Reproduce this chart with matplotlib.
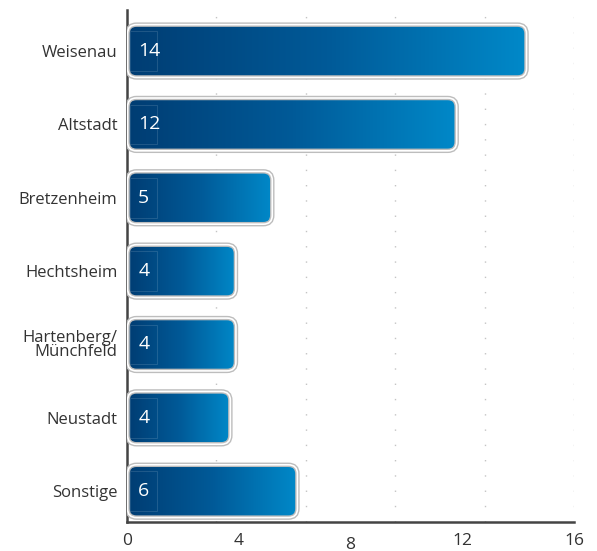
import numpy as np
import matplotlib.pyplot as plt
from matplotlib.patches import FancyBboxPatch, Rectangle
from matplotlib.colors import LinearSegmentedColormap

plt.rcParams['font.family'] = ['Open Sans', 'DejaVu Sans']

# data
districts = ['Weisenau', 'Altstadt', 'Bretzenheim', 'Hechtsheim',
             'Hartenberg/\nMünchfeld', 'Neustadt', 'Sonstige']
bar_lengths = [14.3, 11.8, 5.2, 3.9, 3.9, 3.7, 6.1]
value_labels = ['14', '12', '5', '4', '4', '4', '6']
tick_values = [0, 4, 8, 12, 16]
grid_values = [3.2, 6.4, 9.6, 12.8, 16]

fig = plt.figure(figsize=(5.97, 5.51), dpi=100)
ax = fig.add_axes([0.2127, 0.0526, 0.7488, 0.9293])
ax.set_xlim(0, 16)
ax.set_ylim(6.42, -0.56)

# gradient colours dark navy -> light blue
cmap = LinearSegmentedColormap.from_list('bars', ['#003d73', '#005a98', '#0089c9'])
grad = np.linspace(0, 1, 256).reshape(1, -1)

for gx in grid_values:
    ax.axvline(gx, color='#c4c4c4', lw=1, linestyle=(0, (1, 10)), zorder=0)

bar_h = 0.72
aspect = 27.94 / 73.5
for i, (length, lab) in enumerate(zip(bar_lengths, value_labels)):
    y0 = i - bar_h / 2
    box = FancyBboxPatch((0.02, y0), length - 0.02, bar_h,
                         boxstyle='round,pad=0,rounding_size=0.32',
                         mutation_aspect=aspect, facecolor='none',
                         edgecolor='none', zorder=2)
    ax.add_patch(box)
    im = ax.imshow(grad, cmap=cmap, aspect='auto', zorder=2,
                   extent=[0.02, length, y0 + bar_h, y0], interpolation='bilinear')
    im.set_clip_path(box)
    ax.add_patch(FancyBboxPatch((0.02, y0), length - 0.02, bar_h,
                                boxstyle='round,pad=0,rounding_size=0.32',
                                mutation_aspect=aspect, facecolor='none',
                                edgecolor='#bdbdbd', lw=3.2, zorder=3))
    ax.add_patch(FancyBboxPatch((0.02, y0), length - 0.02, bar_h,
                                boxstyle='round,pad=0,rounding_size=0.32',
                                mutation_aspect=aspect, facecolor='none',
                                edgecolor='white', lw=1.2, zorder=4))
    # faint label box
    ax.add_patch(Rectangle((0.12, i - 0.27), 0.95, 0.54, facecolor='none',
                           edgecolor='white', lw=0.6, alpha=0.15, zorder=4))
    ax.text(0.4, i, lab, color='white', fontsize=14, va='center',
            ha='left', zorder=5)

ax.set_yticks(range(len(districts)))
ax.set_yticklabels(districts, fontsize=12, color='#333333', linespacing=0.8)
ax.tick_params(axis='y', length=0, pad=7)
ax.set_xticks([])

for v in tick_values:
    dy = -0.044 if v == 8 else -0.038
    ax.text(v, dy, str(v), transform=ax.get_xaxis_transform(), ha='center',
            va='center', fontsize=12.5, color='#333333')

for s in ['top', 'right']:
    ax.spines[s].set_visible(False)
for s in ['left', 'bottom']:
    ax.spines[s].set_color('#444444')
    ax.spines[s].set_linewidth(1.8)

fig.savefig('out.png', dpi=100)
